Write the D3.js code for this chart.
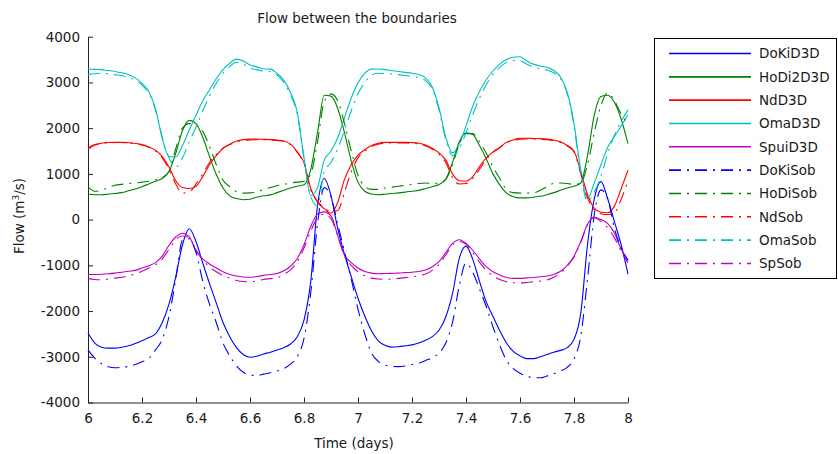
<!DOCTYPE html>
<html>
<head>
<meta charset="utf-8">
<script src="https://cdn.jsdelivr.net/npm/d3@7"></script>
<style>
body{margin:0;background:#fff;}
text{font-family:"DejaVu Sans",sans-serif;fill:#1a1a1a;}
</style>
</head>
<body>
<svg id="chart" width="838" height="454"></svg>
<script>
const time = d3.range(81).map(i => +(6 + i * 0.025).toFixed(3));

const DoKiD3D = [-2480,-2700,-2790,-2810,-2810,-2790,-2760,-2710,-2650,-2580,-2500,-2250,-1850,-1250,-550,-200,-480,-950,-1400,-1820,-2250,-2560,-2800,-2950,-3010,-2990,-2940,-2900,-2850,-2800,-2720,-2560,-2200,-1350,300,900,520,-200,-760,-1250,-1720,-2110,-2430,-2650,-2750,-2790,-2780,-2760,-2740,-2700,-2640,-2560,-2420,-2130,-1620,-850,-580,-870,-1350,-1800,-2120,-2430,-2700,-2880,-2980,-3040,-3040,-3000,-2950,-2900,-2860,-2800,-2620,-2050,-550,450,830,450,-50,-560,-1190];
const HoDi2D3D = [560,545,545,555,570,590,630,670,720,780,840,900,1050,1450,1950,2170,2100,1800,1380,990,690,520,460,435,445,490,520,540,590,640,690,730,760,1100,1900,2720,2700,2430,1900,1280,820,620,560,545,555,570,585,600,620,640,680,720,770,880,1250,1700,1900,1860,1620,1330,1000,760,580,500,475,475,490,510,545,590,640,690,730,800,1400,2280,2690,2720,2560,2190,1660];
const NdD3D = [1560,1640,1670,1685,1690,1690,1680,1665,1640,1590,1520,1380,1150,850,700,680,730,940,1200,1400,1560,1650,1720,1750,1760,1760,1755,1750,1740,1720,1650,1480,1240,680,380,240,140,380,880,1200,1410,1530,1620,1670,1690,1690,1690,1690,1685,1670,1630,1560,1460,1300,1000,850,840,940,1160,1350,1480,1580,1690,1740,1780,1780,1775,1770,1760,1740,1700,1620,1500,1050,550,250,160,150,300,680,1080];
const OmaD3D = [3290,3285,3280,3260,3240,3210,3170,3100,2980,2800,2420,1780,1380,1370,1620,1960,2280,2600,2840,3080,3280,3420,3510,3470,3380,3340,3300,3290,3200,3050,2780,2350,1350,520,700,1300,1500,1790,2230,2660,2990,3200,3290,3295,3280,3260,3240,3220,3200,3170,3100,2900,2450,1800,1460,1650,2050,2480,2800,3060,3250,3400,3500,3550,3560,3470,3400,3360,3330,3260,3120,2780,2100,1080,460,800,1200,1580,1820,2050,2300];
const SpuiD3D = [-1200,-1200,-1195,-1185,-1170,-1150,-1130,-1110,-1060,-1010,-940,-800,-560,-380,-300,-380,-680,-860,-970,-1060,-1140,-1200,-1235,-1255,-1260,-1245,-1220,-1200,-1180,-1120,-1020,-850,-550,-150,120,170,80,-350,-780,-940,-1060,-1135,-1170,-1185,-1180,-1175,-1170,-1160,-1150,-1135,-1100,-1030,-920,-720,-520,-440,-520,-670,-860,-1030,-1140,-1210,-1265,-1285,-1285,-1275,-1265,-1250,-1235,-1200,-1130,-1000,-800,-480,-100,50,0,-90,-300,-650,-880];
const DoKiSob = [-2850,-3030,-3150,-3220,-3240,-3230,-3210,-3170,-3110,-3040,-2850,-2620,-2120,-1300,-450,-420,-720,-1350,-1850,-2250,-2700,-2980,-3200,-3340,-3400,-3410,-3380,-3350,-3310,-3260,-3160,-3000,-2600,-1600,-100,700,500,-100,-700,-1300,-1960,-2500,-2920,-3100,-3180,-3210,-3215,-3200,-3170,-3140,-3080,-3020,-2920,-2700,-2250,-1450,-950,-1150,-1520,-1900,-2350,-2750,-3080,-3260,-3360,-3420,-3460,-3460,-3420,-3370,-3310,-3230,-3050,-2550,-1300,100,650,450,-200,-620,-900];
const HoDiSob = [720,620,640,700,750,770,790,800,820,840,870,920,1050,1550,2000,2100,2080,1930,1600,1200,860,720,610,580,585,600,660,700,740,770,800,820,840,1000,1700,2580,2750,2600,2100,1500,970,730,660,660,690,710,730,750,770,790,800,790,800,880,1200,1650,1880,1880,1700,1450,1150,900,660,590,580,580,585,640,720,790,800,790,770,800,1200,1900,2500,2770,2600,2300,2100];
const NdSob = [1540,1630,1660,1680,1685,1685,1675,1660,1630,1580,1500,1350,1100,780,580,600,780,1000,1250,1420,1560,1640,1700,1730,1740,1745,1745,1740,1730,1710,1640,1470,1220,650,400,260,180,200,600,1050,1350,1500,1600,1650,1670,1675,1675,1675,1670,1655,1610,1540,1430,1250,920,780,790,900,1100,1320,1470,1570,1680,1730,1760,1765,1760,1755,1745,1725,1690,1610,1480,1000,480,220,130,110,150,450,850];
const OmaSob = [3170,3190,3200,3190,3170,3150,3110,3050,2940,2760,2400,1800,1350,1150,1350,1700,2020,2380,2700,2980,3200,3350,3440,3400,3310,3280,3250,3240,3160,3000,2730,2300,1350,500,300,1050,1250,1550,1950,2380,2750,3000,3160,3200,3195,3185,3170,3150,3130,3110,3040,2850,2400,1750,1400,1550,1900,2300,2650,2950,3180,3330,3440,3480,3470,3400,3340,3300,3270,3210,3080,2750,2050,1000,400,600,950,1450,1850,2150,2400];
const SpSob = [-1290,-1310,-1315,-1300,-1280,-1260,-1230,-1190,-1130,-1060,-990,-860,-650,-440,-360,-400,-660,-880,-1030,-1140,-1220,-1280,-1330,-1355,-1360,-1340,-1310,-1290,-1270,-1200,-1100,-920,-620,-250,40,120,20,-360,-800,-1000,-1140,-1230,-1280,-1300,-1305,-1300,-1285,-1270,-1250,-1230,-1190,-1110,-980,-770,-560,-480,-540,-720,-930,-1110,-1230,-1310,-1360,-1380,-1385,-1375,-1360,-1345,-1320,-1260,-1170,-1020,-820,-500,-120,40,-40,-180,-400,-700,-950];

const seriesNames = ["DoKiD3D","HoDi2D3D","NdD3D","OmaD3D","SpuiD3D","DoKiSob","HoDiSob","NdSob","OmaSob","SpSob"];
const seriesValues = [DoKiD3D,HoDi2D3D,NdD3D,OmaD3D,SpuiD3D,DoKiSob,HoDiSob,NdSob,OmaSob,SpSob];
const seriesColors = ["#0000ff","#008000","#ff0000","#00bfbf","#bf00bf","#0000ff","#008000","#ff0000","#00bfbf","#bf00bf"];
const seriesDashed = [false,false,false,false,false,true,true,true,true,true];

const xTicks = [6,6.2,6.4,6.6,6.8,7,7.2,7.4,7.6,7.8,8];
const yTicks = [-4000,-3000,-2000,-1000,0,1000,2000,3000,4000];

const titleText = "Flow between the boundaries";
const xLabel = "Time (days)";

const svg = d3.select("#chart");
const x = d3.scaleLinear().domain([6,8]).range([88,628]);
const y = d3.scaleLinear().domain([-4000,4000]).range([402.5,36.7]);

// axes
const xAxis = d3.axisBottom(x).tickValues(xTicks).tickSizeInner(-5).tickSizeOuter(0).tickPadding(11)
  .tickFormat(d => d3.format("~g")(d));
const yAxis = d3.axisLeft(y).tickValues(yTicks).tickSizeInner(-5).tickSizeOuter(0).tickPadding(8)
  .tickFormat(d => d);

const gx = svg.append("g").attr("transform","translate(0,402.5)").call(xAxis);
const gy = svg.append("g").attr("transform","translate(88,0)").call(yAxis);
[gx,gy].forEach(g=>{
  g.selectAll("path.domain").attr("stroke","#222").attr("stroke-width",1);
  g.selectAll(".tick line").attr("stroke","#222");
  g.selectAll(".tick text").style("font-family","DejaVu Sans, sans-serif").style("font-size","13.5px").attr("fill","#1a1a1a");
});

// lines
const line = d3.line().x((d,i)=>x(time[i])).y(d=>y(d)).curve(d3.curveMonotoneX);
const dash = "12,6,2,6";
seriesValues.forEach((vals,k)=>{
  svg.append("path").datum(vals)
    .attr("d",line)
    .attr("fill","none")
    .attr("stroke",seriesColors[k])
    .attr("stroke-width",1.1)
    .attr("stroke-dasharray",seriesDashed[k]?dash:null);
});

// title and labels
svg.append("text").attr("x",357).attr("y",23).attr("text-anchor","middle").style("font-size","13.5px").text(titleText);
svg.append("text").attr("x",354).attr("y",448).attr("text-anchor","middle").style("font-size","13.5px").text(xLabel);
const yl = svg.append("text").attr("transform","translate(24,216) rotate(-90)").attr("text-anchor","middle").style("font-size","13.5px");
yl.append("tspan").text("Flow (m");
yl.append("tspan").attr("dy",-5).style("font-size","9px").text("3");
yl.append("tspan").attr("dy",5).text("/s)");

// legend
const lg = svg.append("g");
lg.append("rect").attr("x",654.5).attr("y",38.5).attr("width",182).attr("height",240)
  .attr("fill","#fff").attr("stroke","#000").attr("stroke-width",1);
seriesNames.forEach((name,k)=>{
  const yy = 53.5 + k*23.33;
  lg.append("path").attr("d",`M669,${yy}H751`)
    .attr("fill","none")
    .attr("stroke",seriesColors[k]).attr("stroke-width",1.6)
    .attr("stroke-dasharray",seriesDashed[k]?dash:null);
  lg.append("text").attr("x",759).attr("y",yy).attr("dy","0.36em").style("font-size","13.5px").text(name);
});
</script>
</body>
</html>
